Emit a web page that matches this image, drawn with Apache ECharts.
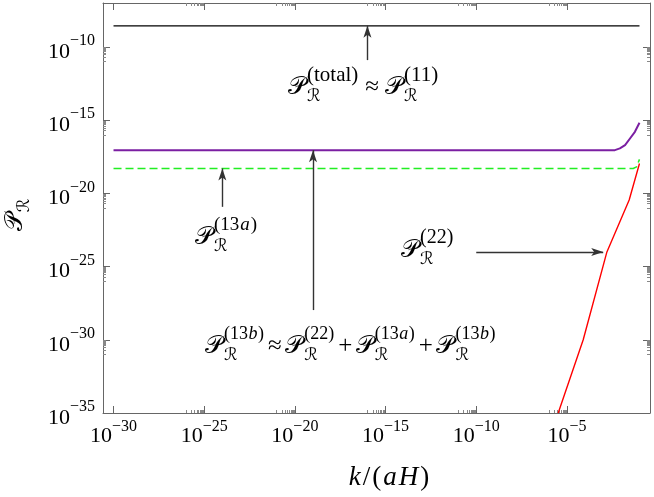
<!DOCTYPE html>
<html><head><meta charset="utf-8">
<script src="https://cdn.jsdelivr.net/npm/echarts@6/dist/echarts.min.js"></script>
<style>html,body{margin:0;padding:0;background:#fff}#c{width:654px;height:497px}</style>
</head><body><div id="c"></div>
<script>
// ---- axis ranges and ticks ----
const xMin = Math.pow(10, -30.58), xMax = Math.pow(10, -0.42);
const yMin = 1e-35, yMax = 1e-7;
const xMajor = [1e-30, 1e-25, 1e-20, 1e-15, 1e-10, 1e-5];
const yMajor = [1e-35, 1e-30, 1e-25, 1e-20, 1e-15, 1e-10];
const xMinorDecades = [-25, -20, -15, -10, -5];
const yMinorDecades = [-30, -25, -20, -15, -10];

// ---- series data (k, P) ----
const kTotal = [1e-30, 1e-1];
const pTotal = [2.75e-9, 2.75e-9];
const kSum = [1e-30, 4.4e-3, 8.3e-3, 1.6e-2, 3.0e-2, 5.6e-2, 1e-1];
const pSum = [8.9e-18, 8.9e-18, 1.17e-17, 1.95e-17, 5.6e-17, 1.6e-16, 6.6e-16];
const k13a = [1e-30, 4.5e-2, 6.9e-2, 1e-1];
const p13a = [5.0e-19, 5.0e-19, 6.5e-19, 2.1e-18];
const k22 = [3.3e-6, 7.9e-5, 1.6e-3, 2.7e-2, 1e-1];
const p22 = [1e-35, 1e-30, 1e-24, 3.5e-21, 1.1e-18];

// ---- annotation arrows (data coords) ----
const arrowFrom = [[1e-16, 1.26e-11], [1e-19, 1.07e-28], [1e-24, 1.2e-21], [1e-10, 1e-24]];
const arrowTo   = [[1e-16, 2.75e-9], [1e-19, 8.9e-18], [1e-24, 5.0e-19], [1e-3, 1e-24]];

const SERIF = "'Liberation Serif', 'Times New Roman', serif";
const CAL = "'DejaVu Serif', 'DejaVu Sans', serif";
const AX = '#666';

function minors(decs) {
  const out = [];
  decs.forEach(d => { for (let m = 1; m <= 9; m++) out.push(m * Math.pow(10, d - 1)); });
  return out;
}
function zip(a, b) { return a.map((v, i) => [v, b[i]]); }
const expo = v => Math.round(Math.log10(v));
const lbl = v => '{b|10}{s|\u2212' + Math.abs(expo(v)) + '}';
const richY = {
  b: { fontFamily: SERIF, fontSize: 22, color: '#000', lineHeight: 22 },
  s: { fontFamily: SERIF, fontSize: 16, color: '#000', lineHeight: 16, padding: [0, 0, 22, 0] }
};
const richX = {
  b: { fontFamily: SERIF, fontSize: 22, color: '#000', lineHeight: 22 },
  s: { fontFamily: SERIF, fontSize: 16, color: '#000', lineHeight: 16, padding: [0, 0, 18, 0] }
};

function axis(kind, pos, values, len, withLine, withLabels, minor) {
  const isX = kind === 'x';
  const tc = minor ? '#888' : AX;
  return {
    type: 'log', logBase: 10, position: pos,
    min: isX ? xMin : yMin, max: isX ? xMax : yMax,
    axisLine: { show: withLine, onZero: false, lineStyle: { color: AX, width: 1 } },
    axisTick: { show: true, inside: true, length: len, customValues: values, lineStyle: { color: tc, width: 1 } },
    axisLabel: withLabels ? {
      show: true, customValues: values, formatter: lbl, rich: isX ? richX : richY,
      margin: isX ? 12 : 8, padding: isX ? 0 : [10, 0, 0, 0]
    } : { show: false },
    splitLine: { show: false }, minorTick: { show: false }, minorSplitLine: { show: false }
  };
}

// ---- text measuring & formula drawing ----
const cv = document.createElement('canvas').getContext('2d');
function fnt(size, fam, italic) { return (italic ? 'italic ' : '') + size + 'px ' + fam; }
function tw(t, f) { cv.font = f; return cv.measureText(t).width; }
function txt(t, x, y, f) {
  return { type: 'text', x: x, y: y, silent: true,
    style: { text: t, font: f, fill: '#000', align: 'left', verticalAlign: 'middle' } };
}
// run: array of [text, italic]
function run(pieces, x, y, size, els, gap) {
  pieces.forEach(p => {
    const f = fnt(size, SERIF, p[1]);
    els.push(txt(p[0], x, y, f));
    x += tw(p[0], f) + (gap || 0);
  });
  return x;
}
function runW(pieces, size, gap) { return pieces.reduce((s, p) => s + tw(p[0], fnt(size, SERIF, p[1])) + (gap || 0), 0); }

function formula(items, o) {
  o = Object.assign({ big: 25, small: 19, dsup: 12, dsub: 10, opGap: 5, gap: 0.5 }, o || {});
  const els = []; let x = 0;
  items.forEach(it => {
    if (it.op) {
      x += o.opGap;
      const f = fnt(o.big, SERIF);
      els.push(txt(it.op, x, 0, f));
      x += tw(it.op, f) + o.opGap;
    } else {
      const fP = fnt(o.big, CAL);
      els.push(txt('\u{1D4AB}', x, 0, fP));
      x += tw('\u{1D4AB}', fP) + 1;
      const fR = fnt(17, CAL);
      els.push(txt('\u211B', x, o.dsub, fR));
      let w = tw('\u211B', fR);
      if (it.sup) {
        run(it.sup, x, -o.dsup, o.small, els, o.gap);
        w = Math.max(w, runW(it.sup, o.small, o.gap));
      }
      x += w;
    }
  });
  return { els: els, width: x };
}
function placeFormula(items, left, yc, o) {
  const f = formula(items, o);
  return { type: 'group', x: left, y: yc, children: f.els, silent: true };
}

const F1 = [{ sup: [['(total)', false]] }, { op: '\u2248' }, { sup: [['(11)', false]] }];
const F2 = [{ sup: [['(13', false], ['b', true], [')', false]] }, { op: '\u2248' },
            { sup: [['(22)', false]] }, { op: '+' },
            { sup: [['(13', false], ['a', true], [')', false]] }, { op: '+' },
            { sup: [['(13', false], ['b', true], [')', false]] }];
const F3 = [{ sup: [['(13', false], ['a', true], [')', false]] }];
const F4 = [{ sup: [['(22)', false]] }];
const FY = [{}];

const yName = formula(FY);
const xNameEls = [];
const xNamePieces = [['k', true], ['/', false], ['(', false], ['a', true], ['H', true], [')', false]];
const xW = runW(xNamePieces, 27, 2);
run(xNamePieces, -xW / 2, 0, 27, xNameEls, 2);

const graphics = [
  placeFormula(F1, 288, 87, { small: 21, gap: 1, opGap: 6 }),
  placeFormula(F2, 205, 346, { small: 18, opGap: 3.5 }),
  placeFormula(F3, 195, 237, { small: 19, gap: 1 }),
  placeFormula(F4, 401, 250, { small: 20, gap: 1 }),
  { type: 'group', x: 15, y: 215, rotation: Math.PI / 2, silent: true,
    children: yName.els.map(e => Object.assign({}, e, { x: e.x - yName.width / 2 })) },
  { type: 'group', x: 390, y: 478, silent: true, children: xNameEls }
];

const chart = echarts.init(document.getElementById('c'), null, { renderer: 'canvas' });
const lineBase = { type: 'line', showSymbol: false, symbol: 'none', animation: false, silent: true, xAxisIndex: 0, yAxisIndex: 0 };
chart.setOption({
  backgroundColor: '#fff',
  animation: false,
  grid: { left: 103, right: 4, top: 3, bottom: 84, containLabel: false, outerBoundsMode: 'none' },
  xAxis: [
    axis('x', 'bottom', xMajor, 7, true, true, false),
    axis('x', 'top', xMajor, 7, true, false, false),
    axis('x', 'bottom', minors(xMinorDecades), 3, false, false, true),
    axis('x', 'top', minors(xMinorDecades), 3, false, false, true)
  ],
  yAxis: [
    axis('y', 'left', yMajor, 7, true, true, false),
    axis('y', 'right', yMajor, 7, true, false, false),
    axis('y', 'left', minors(yMinorDecades), 3, false, false, true),
    axis('y', 'right', minors(yMinorDecades), 3, false, false, true)
  ],
  series: [
    Object.assign({}, lineBase, { name: 'total', data: zip(kTotal, pTotal), lineStyle: { color: '#000', width: 1.4 } }),
    Object.assign({}, lineBase, { name: 'sum', data: zip(kSum, pSum), lineStyle: { color: '#7b1fa2', width: 2 } }),
    Object.assign({}, lineBase, { name: '13a', data: zip(k13a, p13a), lineStyle: { color: '#22ee22', width: 1.5, type: [8, 4] } }),
    Object.assign({}, lineBase, { name: '22', data: zip(k22, p22), lineStyle: { color: '#ff0000', width: 1.4 } }),
    Object.assign({}, lineBase, { name: 'arrows', data: [],
      markLine: { silent: true, animation: false, symbol: ['none', 'arrow'], symbolSize: [6, 12],
        label: { show: false }, emphasis: { disabled: true },
        lineStyle: { color: '#333', width: 1.4, type: 'solid' },
        data: arrowFrom.map((a, i) => [{ coord: a }, { coord: arrowTo[i] }]) } })
  ],
  graphic: graphics
});
</script></body></html>
